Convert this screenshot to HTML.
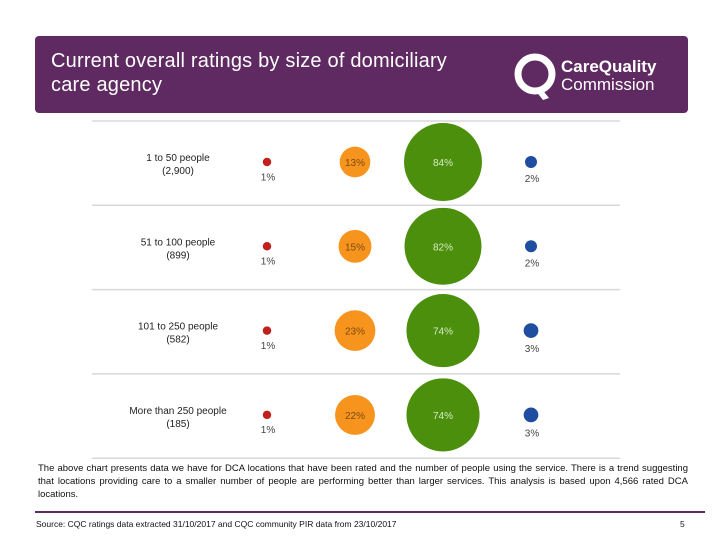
<!DOCTYPE html>
<html><head><meta charset="utf-8"><style>
body{margin:0;width:720px;height:540px;background:#fff;position:relative;overflow:hidden;font-family:"Liberation Sans",sans-serif}
#hdr{position:absolute;left:35px;top:36px;width:653px;height:77px;background:#5e2a61;border-radius:4px}
#title{position:absolute;left:16px;top:13px;color:#fff;font-size:20px;line-height:24px;letter-spacing:.2px}
#logo{position:absolute;left:478px;top:14px;width:160px;height:52px}
#desc{position:absolute;left:38px;top:462px;width:650px;font-size:9.5px;line-height:13px;color:#111;text-align:justify}
#rule{position:absolute;left:35px;top:511px;width:670px;height:2px;background:#5e2a61}
#src{position:absolute;left:36px;top:519px;font-size:8.5px;color:#111}
#pg{position:absolute;left:680px;top:519px;font-size:8.5px;color:#111}
</style></head><body>
<div id="hdr">
<div id="title">Current overall ratings by size of domiciliary<br>care agency</div>
<svg id="logo" viewBox="0 0 160 52">
<circle cx="22" cy="24" r="17" fill="none" stroke="#fff" stroke-width="7"/>
<path d="M22 40 L30 50 L36 48 L28 38Z" fill="#fff"/>
<text x="48" y="22" fill="#fff" font-size="17" font-weight="bold" font-family="Liberation Sans">CareQuality</text>
<text x="48" y="40" fill="#fff" font-size="17" font-family="Liberation Sans">Commission</text>
</svg>
</div>
<svg id="chart" width="720" height="540" style="position:absolute;left:0;top:0"></svg>
<div id="desc">The above chart presents data we have for DCA locations that have been rated and the number of people using the service. There is a trend suggesting that locations providing care to a smaller number of people are performing better than larger services. This analysis is based upon 4,566 rated DCA locations.</div>
<div id="rule"></div>
<div id="src">Source: CQC ratings data extracted 31/10/2017 and CQC community PIR data from 23/10/2017</div>
<div id="pg">5</div>
<script>
const categories=["1 to 50 people","51 to 100 people","101 to 250 people","More than 250 people"];
const counts=["(2,900)","(899)","(582)","(185)"];
const inadequate=[1,1,1,1];
const requiresImprovement=[13,15,23,22];
const good=[84,82,74,74];
const outstanding=[2,2,3,3];
const svg=document.getElementById('chart');
const NS='http://www.w3.org/2000/svg';
const rowY=i=>162+i*84.3;
const rScale=v=>4.25*Math.sqrt(v);
function mk(tag,attrs,txt){const e=document.createElementNS(NS,tag);for(const k in attrs)e.setAttribute(k,attrs[k]);if(txt!=null)e.textContent=txt;svg.appendChild(e);return e;}
// separators
for(let i=0;i<=categories.length;i++){
  const l=mk('line',{x1:92,x2:620,y1:121+i*84.3,y2:121+i*84.3,stroke:'#d8d8d8','stroke-width':1.5});
  
  
}
const series=[
 {vals:inadequate,x:267,color:'#c0211f',inside:false,name:'inadequate'},
 {vals:requiresImprovement,x:355,color:'#f7941d',inside:true,tc:'#7a4a10',name:'requires-improvement'},
 {vals:good,x:443,color:'#4b8f0c',inside:true,tc:'#d8ecc8',name:'good'},
 {vals:outstanding,x:531,color:'#1f4ea1',inside:false,name:'outstanding'}];
categories.forEach((c,i)=>{
  const y=rowY(i);
  const t1=mk('text',{x:178,y:y-1,'text-anchor':'middle','font-size':10,fill:'#222'},c);
  
  
  const t2=mk('text',{x:178,y:y+12,'text-anchor':'middle','font-size':10,fill:'#222'},counts[i]);
  
  
  series.forEach(s=>{
    const v=s.vals[i],r=rScale(v);
    const b=mk('circle',{cx:s.x,cy:y,r:r,fill:s.color});
    
    
    const lab=s.inside?mk('text',{x:s.x,y:y+4,'text-anchor':'middle','font-size':10,fill:s.tc},v+'%')
                      :mk('text',{x:s.x+1,y:y+r+14,'text-anchor':'middle','font-size':10,fill:'#444'},v+'%');
    
    
  });
});
</script>
</body></html>
